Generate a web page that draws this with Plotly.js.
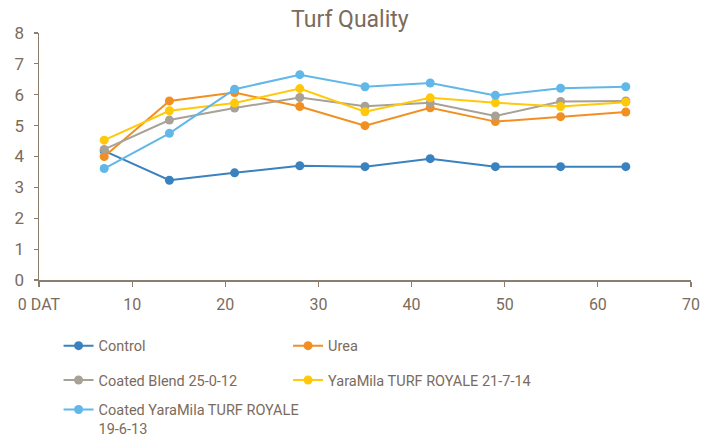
<!DOCTYPE html>
<html>
<head>
<meta charset="utf-8">
<script src="https://cdn.plot.ly/plotly-3.0.1.min.js"></script>
<style>html,body{margin:0;padding:0;background:#fff;}#chart{width:717px;height:437px;}</style>
</head>
<body>
<div id="chart"></div>
<script>
const days = [7, 14, 21, 28, 35, 42, 49, 56, 63];
const xTickVals = [0, 10, 20, 30, 40, 50, 60, 70];
const xTickText = ["0 DAT", "10", "20", "30", "40", "50", "60", "70"];
const seriesNames = ["Control", "Urea", "Coated Blend 25-0-12", "YaraMila TURF ROYALE 21-7-14", "Coated YaraMila TURF ROYALE<br>19-6-13"];
const control = [4.18, 3.23, 3.47, 3.70, 3.67, 3.93, 3.67, 3.67, 3.67];
const urea = [4.00, 5.80, 6.07, 5.62, 5.00, 5.58, 5.13, 5.29, 5.44];
const coatedBlend = [4.23, 5.18, 5.57, 5.91, 5.63, 5.74, 5.31, 5.78, 5.80];
const yaraMila = [4.53, 5.48, 5.73, 6.20, 5.45, 5.90, 5.74, 5.62, 5.76];
const coatedYaraMila = [3.61, 4.75, 6.18, 6.65, 6.26, 6.38, 5.98, 6.21, 6.26];
const colors = ["#3a82bf", "#f28f22", "#a8a196", "#ffc90a", "#62b7e9"];
const legendIds = ["legend", "legend2", "legend3", "legend4", "legend5"];

const seriesData = [control, urea, coatedBlend, yaraMila, coatedYaraMila];
const traces = seriesData.map((ys, i) => ({
  type: "scatter",
  mode: "lines+markers",
  x: days,
  y: ys,
  name: seriesNames[i],
  legend: legendIds[i],
  line: {color: colors[i], width: 2},
  marker: {color: colors[i], size: 9}
}));

const textColor = "#7b6b5c";
const axisColor = "#8c7d6e";
const font = "Roboto, 'Open Sans', sans-serif";

const legendBase = {
  orientation: "h", xanchor: "left", yanchor: "middle",
  font: {size: 14.5, color: textColor, family: font},
  bgcolor: "rgba(0,0,0,0)"
};
const col1 = 0.03, col2 = 0.382;

const layout = {
  width: 717, height: 437,
  margin: {l: 39, r: 26, t: 33, b: 157, autoexpand: false},
  paper_bgcolor: "#ffffff", plot_bgcolor: "#ffffff",
  font: {family: font, color: textColor, size: 16},
  title: {text: "Turf Quality", x: 0.488, xanchor: "center", y: 0.975, yanchor: "top",
          font: {family: font, size: 23, color: textColor}},
  xaxis: {
    range: [0, 70], tickvals: xTickVals, ticktext: xTickText,
    showgrid: false, zeroline: false, showline: true, linecolor: axisColor, linewidth: 1.5,
    ticks: "outside", ticklen: 5, tickcolor: axisColor, tickwidth: 1.2,
    ticklabelstandoff: 4,
    tickfont: {size: 16, color: textColor, family: font}
  },
  yaxis: {
    range: [0, 8], dtick: 1,
    showgrid: false, zeroline: false, showline: true, linecolor: axisColor, linewidth: 1.5,
    ticks: "outside", ticklen: 4, tickcolor: axisColor, tickwidth: 1.2,
    ticklabelstandoff: 6,
    tickfont: {size: 17, color: textColor, family: font}
  },
  showlegend: true,
  legend: Object.assign({}, legendBase, {x: col1, y: -0.266}),
  legend2: Object.assign({}, legendBase, {x: col2, y: -0.266}),
  legend3: Object.assign({}, legendBase, {x: col1, y: -0.405}),
  legend4: Object.assign({}, legendBase, {x: col2, y: -0.405}),
  legend5: Object.assign({}, legendBase, {x: col1, y: -0.563, valign: "top"})
};

Plotly.newPlot("chart", traces, layout, {displayModeBar: false, staticPlot: true});
</script>
</body>
</html>
